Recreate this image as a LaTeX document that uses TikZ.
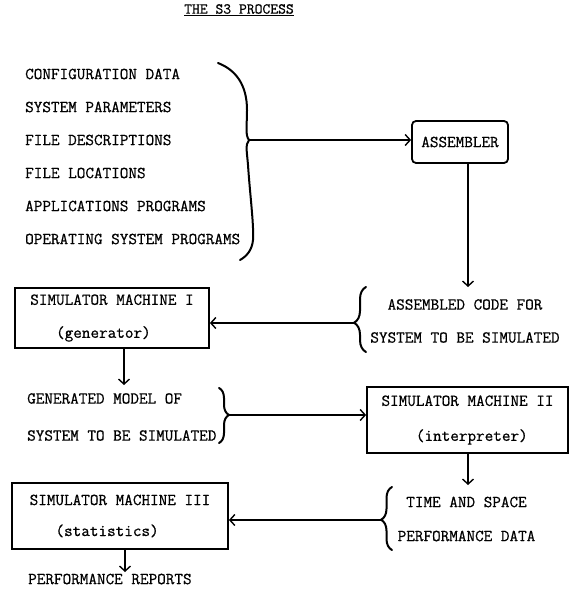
\documentclass[tikz,border=0pt]{standalone}
\usepackage{fontspec}
\setmonofont{Latin Modern Mono}[FakeBold=0.7]
\usetikzlibrary{arrows.meta,positioning,calc,decorations.pathreplacing}

\begin{document}
\begin{tikzpicture}[
    x=1pt, y=-1pt,
    >={Straight Barb[length=5pt,width=11pt,line width=1.4pt]},
    font=\fontsize{16.7}{33}\selectfont\ttfamily,
    txt/.style={inner sep=0pt,align=left},
    item/.style={txt,anchor=west},
    machine/.style={draw,line width=1.8pt,inner sep=0pt,align=left},
    flow/.style={->,line width=1.3pt},
    bracepen/.style={line width=2pt,line cap=round,line join=round},
    curly/.style 2 args={bracepen,decorate,decoration={brace,amplitude=#1,aspect=#2}},
]

\useasboundingbox (0,0) rectangle (570,596);

% ---------- title ----------
\node[font=\fontsize{15.2}{18}\selectfont\ttfamily] (title) at (239,10) {\underline{THE S3 PROCESS}};

% ---------- inputs to the assembler ----------
\foreach \i/\what in {0/CONFIGURATION DATA, 1/SYSTEM PARAMETERS, 2/FILE DESCRIPTIONS,
                      3/FILE LOCATIONS, 4/APPLICATIONS PROGRAMS, 5/OPERATING SYSTEM PROGRAMS}
  \node[item] (in\i) at (25,74+33*\i) {\what};

\draw[bracepen] (218,63) .. controls (236,70) and (247,85) .. (247,110)
  .. controls (247,126) and (245,135) .. (249,140)
  .. controls (245,145) and (247,152) .. (248,165)
  .. controls (250,195) and (254,225) .. (253,240)
  .. controls (252,250) and (247,256) .. (240,260);
\coordinate (cfgtip) at (249,140);

% ---------- assembler ----------
\node[machine,rounded corners=4pt,align=center,minimum width=96pt,minimum height=42pt] (asm) at (460,142) {ASSEMBLER};
\draw[flow] (cfgtip) -- (cfgtip -| asm.west);

\coordinate (codetop) at (468,287);
\draw[flow] (asm.south -| codetop) -- (codetop);

\node[txt,align=center] (code) at (465,321) {ASSEMBLED CODE FOR\\SYSTEM TO BE SIMULATED};
\draw[curly={12pt}{0.45}] (366,352) -- (366,287);
\coordinate (codetip) at (354,323);

% ---------- machine I ----------
\node[machine,minimum width=194pt,minimum height=60pt] (simI) at (112,318) {SIMULATOR MACHINE I\\\ \ \ (generator)};
\draw[flow] (codetip) -- (codetip -| simI.east);

\coordinate (modeltop) at (124,385);
\draw[flow] (simI.south -| modeltop) -- (modeltop);

\node[item] (model) at (27,417) {GENERATED MODEL OF\\[4pt]SYSTEM TO BE SIMULATED};
\draw[curly={10pt}{0.49}] (219,388) -- (219,443);
\coordinate (modeltip) at (229,415);

% ---------- machine II ----------
\node[machine,minimum width=201pt,minimum height=66pt] (simII) at (467.5,420) {SIMULATOR MACHINE II\\[2pt]\ \ \ \ (interpreter)};
\draw[flow] (modeltip) -- (modeltip -| simII.west);

\coordinate (perftop) at (468,485);
\draw[flow] (simII.south -| perftop) -- (perftop);

\node[txt,align=center] (perf) at (466.5,519) {TIME AND SPACE\\[1pt]PERFORMANCE DATA};
\draw[curly={11pt}{0.48}] (392,550) -- (392,487);
\coordinate (perftip) at (381,520);

% ---------- machine III ----------
\node[machine,minimum width=216pt,minimum height=66pt] (simIII) at (120,516) {SIMULATOR MACHINE III\\[-2pt]\ \ \ (statistics)};
\draw[flow] (perftip) -- (perftip -| simIII.east);

\coordinate (reptop) at (125,572);
\draw[flow] (simIII.south -| reptop) -- (reptop);
\node[item] (reports) at (28,579) {PERFORMANCE REPORTS};

\end{tikzpicture}
\end{document}
